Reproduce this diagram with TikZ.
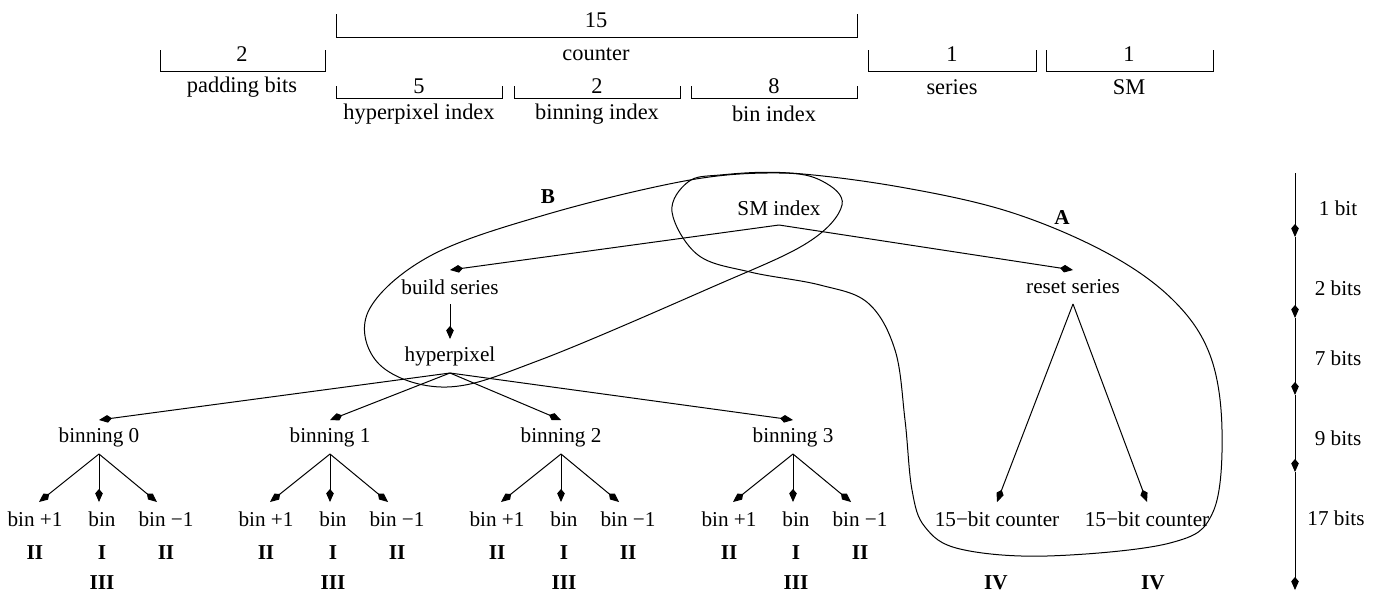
\documentclass[tikz,border=0pt]{standalone}
\usepackage{fontspec}
\setmainfont{Liberation Serif}
\usetikzlibrary{arrows.meta}
\begin{document}
\begin{tikzpicture}[x=0.5pt,y=-0.5pt,line width=0.5pt,
  arr/.style={-{Kite[length=6.5pt,width=3.8pt,inset=2.2pt]}},
  tn/.style={inner sep=0pt,minimum height=16.5pt,font=\fontsize{10.6}{12}\selectfont},
  toptext/.style={inner sep=0pt,font=\fontsize{11.2}{13}\selectfont},
  rom/.style={inner sep=0pt,font=\fontsize{10.6}{12}\selectfont\bfseries},
  axlab/.style={inner sep=0pt,font=\fontsize{10.6}{12}\selectfont},
  grp/.style={line width=0.5pt}]
\useasboundingbox (0,0) rectangle (1381,595);
% ---- top bit layout brackets
\draw (160,50) -- (160,71) -- (325,71) -- (325,50);
\node[toptext] (pad) at (242,54) {2};
\node[toptext] (padl) at (242,87) {padding bits};
\draw (336,14) -- (336,37) -- (857,37) -- (857,14);
\node[toptext] (cnt) at (596,20) {15};
\node[toptext] (cntl) at (596,54) {counter};
\draw (336,86) -- (336,98) -- (502,98) -- (502,86);
\node[toptext] (hpi) at (419,86) {5};
\node[toptext] (hpil) at (419,114) {hyperpixel index};
\draw (514,86) -- (514,98) -- (680,98) -- (680,86);
\node[toptext] (bni) at (597,86) {2};
\node[toptext] (bnil) at (597,114) {binning index};
\draw (691,86) -- (691,98) -- (857,98) -- (857,86);
\node[toptext] (bi) at (774,86) {8};
\node[toptext] (bil) at (774,114) {bin index};
\draw (868,50) -- (868,71) -- (1036,71) -- (1036,50);
\node[toptext] (ser) at (952,54) {1};
\node[toptext] (serl) at (952,87) {series};
\draw (1046,50) -- (1046,71) -- (1213,71) -- (1213,50);
\node[toptext] (smb) at (1129,54) {1};
\node[toptext] (smbl) at (1129,87) {SM};
% ---- tree
\node[tn] (sm) at (779,208) {SM index};
\node[tn] (bs) at (450,287) {build series};
\node[tn] (rs) at (1073,287) {reset series};
\node[tn] (hp) at (450,356) {hyperpixel};
\draw[arr] (sm.south) -- (bs.north);
\draw[arr] (sm.south) -- (rs.north);
\draw[arr] (bs.south) -- (hp.north);
\foreach \i/\x in {0/99,1/330,2/561,3/793}{
  \node[tn] (b\i) at (\x,437) {binning \i};
  \node[tn] (p\i) at (\x-64,519) {bin +1};
  \node[tn] (c\i) at (\x+3,519) {bin};
  \node[tn] (m\i) at (\x+67,519) {bin −1};
  \node[rom] (rp\i) at (\x-64,553) {II};
  \node[rom] (rc\i) at (\x+3,553) {I};
  \node[rom] (rm\i) at (\x+67,553) {II};
  \node[rom] (rt\i) at (\x+3,583) {III};
  \draw[arr] (hp.south) -- (b\i.north);
  \draw[arr] (b\i.south) -- ([xshift=2pt]p\i.north);
  \draw[arr] (b\i.south) -- ([xshift=-1.5pt]c\i.north);
  \draw[arr] (b\i.south) -- ([xshift=-4.5pt]m\i.north);
}
\node[tn] (k1) at (997,519) {15−bit counter};
\node[tn] (k2) at (1147,519) {15−bit counter};
\draw[arr] (rs.south) -- (k1.north);
\draw[arr] (rs.south) -- (k2.north);
\node[rom] (iv1) at (996,583) {IV};
\node[rom] (iv2) at (1153,583) {IV};
% ---- grouping loops
\draw[grp] plot[smooth cycle,tension=0.6] coordinates {
  (780,173) (690,180) (548,214) (430,256) (368,312) (380,365) (447,387)
  (540,360) (710,288) (807,243) (842,205) (822,181)};
\draw[grp] plot[smooth cycle,tension=0.6] coordinates {
  (720,175) (790,173) (900,187) (1010,212) (1107,253) (1173,300) (1210,355)
  (1222,430) (1213,512) (1170,543) (1047,556) (960,549) (925,527) (912,490)
  (905,420) (895,350) (868,303) (820,285) (750,272) (698,255) (672,212)
  (688,182)};
\node[rom] (lb) at (548,197) {B};
\node[rom] (la) at (1062,217) {A};
% ---- bit-depth axis
\coordinate (a0) at (1295,173);
\coordinate (a1) at (1295,237);
\coordinate (a2) at (1295,318);
\coordinate (a3) at (1295,395);
\coordinate (a4) at (1295,472);
\coordinate (a5) at (1295,590);
\draw[arr] (a0) -- (a1);
\draw[arr] (a1) -- (a2);
\draw[arr] (a2) -- (a3);
\draw[arr] (a3) -- (a4);
\draw[arr] (a4) -- (a5);
\node[axlab] (l1) at (1338,208) {1 bit};
\node[axlab] (l2) at (1338,288) {2 bits};
\node[axlab] (l3) at (1338,358) {7 bits};
\node[axlab] (l4) at (1338,438) {9 bits};
\node[axlab] (l5) at (1336,518) {17 bits};
\end{tikzpicture}
\end{document}
